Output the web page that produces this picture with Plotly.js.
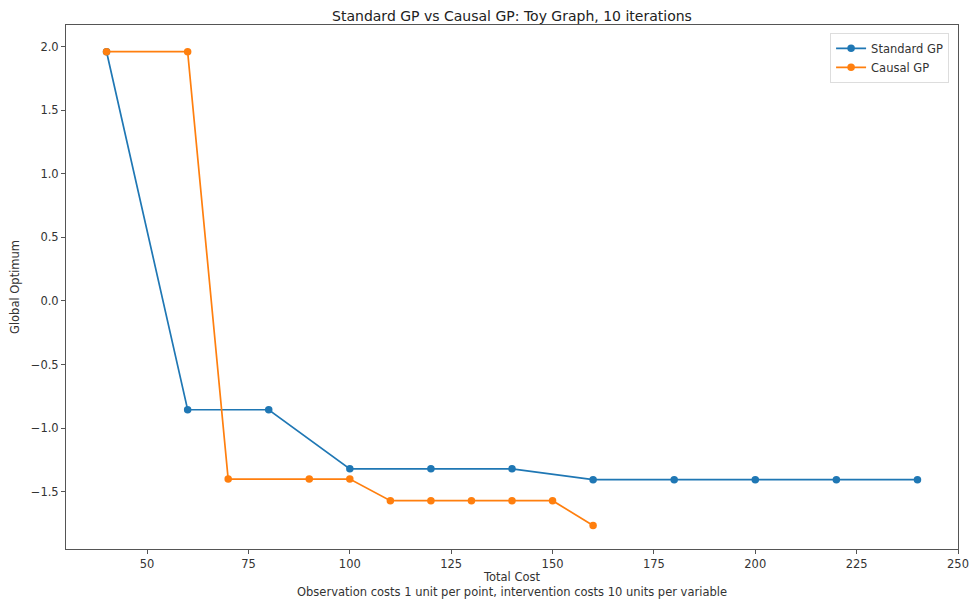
<!DOCTYPE html>
<html><head><meta charset="utf-8">
<script src="https://cdn.plot.ly/plotly-3.0.1.min.js"></script>
<style>body{margin:0;background:#fff}#chart{width:969px;height:599px}</style>
</head><body><div id="chart"></div>
<script>
const stdCost = [40, 60, 80, 100, 120, 140, 160, 180, 200, 220, 240];
const stdOpt = [1.96, -0.855, -0.855, -1.32, -1.32, -1.32, -1.405, -1.405, -1.405, -1.405, -1.405];
const causalCost = [40, 60, 70, 90, 100, 110, 120, 130, 140, 150, 160];
const causalOpt = [1.96, 1.96, -1.40, -1.40, -1.40, -1.57, -1.57, -1.57, -1.57, -1.57, -1.765];
const xTicks = [50, 75, 100, 125, 150, 175, 200, 225, 250];
const yTicks = [-1.5, -1.0, -0.5, 0.0, 0.5, 1.0, 1.5, 2.0];
const yTickText = ["\u22121.5", "\u22121.0", "\u22120.5", "0.0", "0.5", "1.0", "1.5", "2.0"];

const ff = "DejaVu Sans, sans-serif";
const font = {family: ff, color: "#333", size: 11.5};
const traces = [
  {x: stdCost, y: stdOpt, name: "Standard GP", mode: "lines+markers",
   line: {color: "#1f77b4", width: 1.7}, marker: {color: "#1f77b4", size: 7.5}},
  {x: causalCost, y: causalOpt, name: "Causal GP", mode: "lines+markers",
   line: {color: "#ff7f0e", width: 1.7}, marker: {color: "#ff7f0e", size: 7.5}}
];
const axisCommon = {showgrid: false, zeroline: false, showline: true, mirror: true,
  linecolor: "#555", linewidth: 1, ticks: "outside", ticklen: 4, tickcolor: "#555",
  tickfont: font};
const layout = {
  width: 969, height: 599,
  margin: {l: 66, r: 11, t: 25, b: 50},
  paper_bgcolor: "#fff", plot_bgcolor: "#fff",
  title: {text: "Standard GP vs Causal GP: Toy Graph, 10 iterations",
    font: {family: ff, size: 14, color: "#222"},
    x: 0.5, xref: "paper", y: 1, yref: "paper", yanchor: "bottom", pad: {b: 4}},
  xaxis: Object.assign({}, axisCommon, {range: [30, 250], tickvals: xTicks,
    ticktext: xTicks.map(String),
    title: {text: "Total Cost<br>Observation costs 1 unit per point, intervention costs 10 units per variable",
      font: {family: ff, size: 11.5, color: "#333"}, standoff: 2}}),
  yaxis: Object.assign({}, axisCommon, {range: [-1.95, 2.17], tickvals: yTicks,
    ticktext: yTickText,
    title: {text: "Global Optimum", font: {family: ff, size: 11.5, color: "#333"}, standoff: 8}}),
  legend: {x: 0.99, y: 0.985, xanchor: "right", yanchor: "top",
    bordercolor: "#ddd", borderwidth: 1, bgcolor: "rgba(255,255,255,0.8)",
    font: {family: ff, size: 11.5, color: "#333"}, tracegroupgap: 0},
  showlegend: true
};
Plotly.newPlot("chart", traces, layout, {displayModeBar: false, staticPlot: true});
</script></body></html>
